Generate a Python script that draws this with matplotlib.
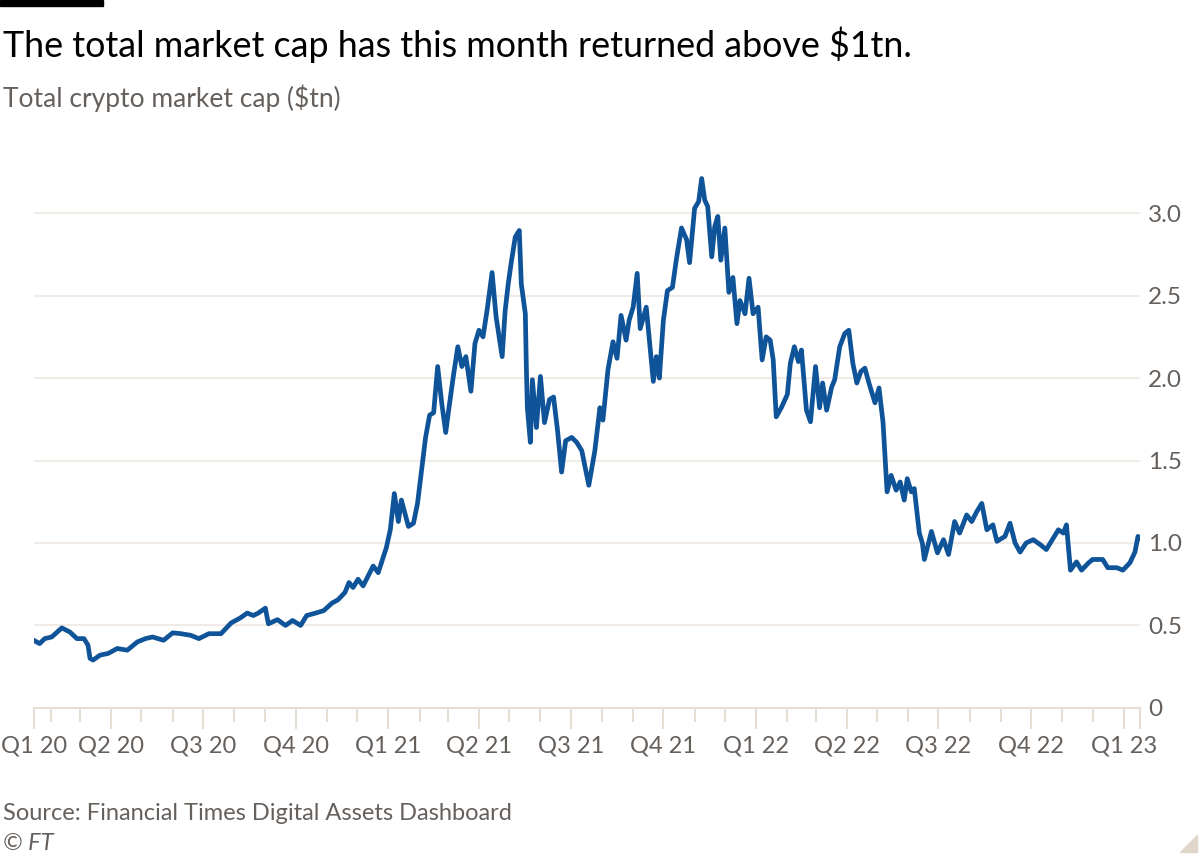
import matplotlib.pyplot as plt
import pandas as pd
from matplotlib.patches import Rectangle, Polygon

# Total crypto market cap ($tn)
dates_2020 = ["2020-01-15", "2020-01-21", "2020-01-26", "2020-02-02", "2020-02-12", "2020-02-20", "2020-02-27",
              "2020-03-05", "2020-03-09", "2020-03-11", "2020-03-14", "2020-03-21", "2020-03-29",
              "2020-04-07", "2020-04-17", "2020-04-27", "2020-05-05", "2020-05-12", "2020-05-23",
              "2020-06-01", "2020-06-09", "2020-06-19", "2020-06-27", "2020-07-07", "2020-07-19", "2020-07-29",
              "2020-08-07", "2020-08-14", "2020-08-20", "2020-08-25", "2020-09-01", "2020-09-04", "2020-09-13",
              "2020-09-21", "2020-09-28", "2020-10-06", "2020-10-12", "2020-10-21", "2020-10-29",
              "2020-11-06", "2020-11-12", "2020-11-19", "2020-11-23", "2020-11-27",
              "2020-12-02", "2020-12-07", "2020-12-17", "2020-12-22", "2020-12-30"]
values_2020 = [0.41, 0.39, 0.42, 0.43, 0.485, 0.46, 0.42,
               0.42, 0.38, 0.30, 0.29, 0.32, 0.33,
               0.36, 0.35, 0.40, 0.42, 0.43, 0.41,
               0.455, 0.45, 0.44, 0.42, 0.45, 0.45, 0.515,
               0.545, 0.575, 0.56, 0.575, 0.605, 0.51, 0.535,
               0.50, 0.53, 0.50, 0.56, 0.575, 0.59,
               0.635, 0.655, 0.70, 0.76, 0.73,
               0.78, 0.74, 0.86, 0.82, 0.97]

dates_2021 = ["2021-01-03", "2021-01-07", "2021-01-11", "2021-01-14", "2021-01-21", "2021-01-26", "2021-01-30",
              "2021-02-03", "2021-02-07", "2021-02-11", "2021-02-15", "2021-02-19", "2021-02-23", "2021-02-27",
              "2021-03-02", "2021-03-07", "2021-03-11", "2021-03-15", "2021-03-19", "2021-03-24", "2021-03-28",
              "2021-04-01", "2021-04-05", "2021-04-09", "2021-04-14", "2021-04-18", "2021-04-24", "2021-04-27", "2021-04-30",
              "2021-05-03", "2021-05-07", "2021-05-11", "2021-05-13", "2021-05-17", "2021-05-18", "2021-05-19",
              "2021-05-22", "2021-05-24", "2021-05-28",
              "2021-06-01", "2021-06-05", "2021-06-10", "2021-06-14", "2021-06-18", "2021-06-22", "2021-06-26",
              "2021-07-02", "2021-07-07", "2021-07-12", "2021-07-19", "2021-07-25", "2021-07-30",
              "2021-08-02", "2021-08-07", "2021-08-12", "2021-08-16", "2021-08-20", "2021-08-25", "2021-08-28",
              "2021-09-01", "2021-09-05", "2021-09-08", "2021-09-14", "2021-09-21", "2021-09-24", "2021-09-27",
              "2021-10-01", "2021-10-05", "2021-10-10", "2021-10-14", "2021-10-19", "2021-10-24", "2021-10-27",
              "2021-11-01", "2021-11-05", "2021-11-08", "2021-11-11", "2021-11-14", "2021-11-18", "2021-11-21",
              "2021-11-24", "2021-11-27",
              "2021-12-01", "2021-12-05", "2021-12-09", "2021-12-13", "2021-12-16", "2021-12-21", "2021-12-25", "2021-12-29"]
values_2021 = [1.08, 1.30, 1.13, 1.26, 1.10, 1.12, 1.24,
               1.44, 1.64, 1.775, 1.79, 2.07, 1.85, 1.67,
               1.81, 2.03, 2.19, 2.07, 2.13, 1.92, 2.21,
               2.29, 2.25, 2.41, 2.64, 2.37, 2.13, 2.41, 2.57,
               2.70, 2.855, 2.895, 2.57, 2.39, 2.07, 1.82,
               1.61, 1.99, 1.70,
               2.01, 1.73, 1.87, 1.885, 1.68, 1.43, 1.62,
               1.64, 1.61, 1.56, 1.35, 1.56, 1.82,
               1.745, 2.05, 2.22, 2.12, 2.38, 2.23, 2.35,
               2.43, 2.635, 2.30, 2.43, 1.98, 2.13, 2.00,
               2.35, 2.53, 2.55, 2.725, 2.91, 2.84, 2.70,
               3.03, 3.07, 3.21, 3.08, 3.04, 2.735, 2.92,
               2.98, 2.715,
               2.91, 2.52, 2.61, 2.33, 2.47, 2.39, 2.605, 2.39]

dates_2022 = ["2022-01-03", "2022-01-07", "2022-01-11", "2022-01-15", "2022-01-18", "2022-01-21", "2022-01-26",
              "2022-02-01", "2022-02-04", "2022-02-08", "2022-02-12", "2022-02-15", "2022-02-20", "2022-02-24",
              "2022-03-01", "2022-03-05", "2022-03-08", "2022-03-12", "2022-03-17", "2022-03-20", "2022-03-25", "2022-03-30",
              "2022-04-03", "2022-04-07", "2022-04-11", "2022-04-15", "2022-04-19", "2022-04-23", "2022-04-29",
              "2022-05-03", "2022-05-07", "2022-05-10", "2022-05-11", "2022-05-15", "2022-05-20", "2022-05-24",
              "2022-05-28", "2022-05-31",
              "2022-06-04", "2022-06-07", "2022-06-12", "2022-06-15", "2022-06-17", "2022-06-24", "2022-06-30",
              "2022-07-06", "2022-07-11", "2022-07-17", "2022-07-22", "2022-07-29",
              "2022-08-03", "2022-08-08", "2022-08-13", "2022-08-18", "2022-08-24", "2022-08-28",
              "2022-09-05", "2022-09-10", "2022-09-15", "2022-09-20", "2022-09-26",
              "2022-10-03", "2022-10-10", "2022-10-16", "2022-10-23", "2022-10-28",
              "2022-11-02", "2022-11-05", "2022-11-09", "2022-11-15", "2022-11-20", "2022-11-27",
              "2022-12-01", "2022-12-11", "2022-12-16", "2022-12-25", "2022-12-31",
              "2023-01-07", "2023-01-12", "2023-01-15", "2023-01-17"]
values_2022 = [2.43, 2.11, 2.25, 2.23, 2.11, 1.765, 1.82,
               1.90, 2.09, 2.19, 2.10, 2.17, 1.805, 1.735,
               2.07, 1.82, 1.97, 1.805, 1.945, 1.99, 2.19, 2.27,
               2.29, 2.09, 1.97, 2.04, 2.06, 1.97, 1.85,
               1.94, 1.73, 1.42, 1.31, 1.41, 1.32, 1.37,
               1.26, 1.39,
               1.31, 1.33, 1.06, 1.00, 0.90, 1.07, 0.94,
               1.02, 0.93, 1.13, 1.06, 1.17,
               1.13, 1.19, 1.24, 1.08, 1.11, 1.01,
               1.04, 1.12, 1.00, 0.945, 1.00,
               1.02, 0.99, 0.96, 1.03, 1.08,
               1.06, 1.11, 0.835, 0.885, 0.835, 0.88,
               0.90, 0.90, 0.85, 0.85, 0.835,
               0.88, 0.945, 1.04, 1.03]

quarter_labels = ["Q1 20", "Q2 20", "Q3 20", "Q4 20", "Q1 21", "Q2 21", "Q3 21",
                  "Q4 21", "Q1 22", "Q2 22", "Q3 22", "Q4 22", "Q1 23"]
y_ticks = [0, 0.5, 1.0, 1.5, 2.0, 2.5, 3.0]
y_labels = ["0", "0.5", "1.0", "1.5", "2.0", "2.5", "3.0"]

title = "The total market cap has this month returned above $1tn."
subtitle = "Total crypto market cap ($tn)"
source = "Source: Financial Times Digital Assets Dashboard"

start = pd.Timestamp("2020-01-15")
end = pd.Timestamp("2023-01-17")

plt.rcParams['font.family'] = ['Lato', 'DejaVu Sans']
grey = '#66605c'
beige = '#e6ddd3'

dates = pd.to_datetime(dates_2020 + dates_2021 + dates_2022)
values = values_2020 + values_2021 + values_2022

fig = plt.figure(figsize=(12, 8.57), dpi=100)
ax = fig.add_axes([0.028, 0.174, 0.922, 0.635])

ax.plot(dates, values, color='#0f5499', lw=3.4, solid_joinstyle='round', zorder=3)

ax.set_xlim(start, end)
ax.set_ylim(0, 3.3)

# y axis on the right, no tick marks
ax.yaxis.tick_right()
ax.set_yticks(y_ticks)
ax.set_yticklabels(y_labels)
ax.tick_params(axis='y', length=0, pad=6, labelsize=17.5, labelcolor=grey)
ax.grid(axis='y', color='#f0ebe6', lw=1.5)
ax.set_axisbelow(True)

for side in ['top', 'left', 'right']:
    ax.spines[side].set_visible(False)
ax.spines['bottom'].set_color(beige)
ax.spines['bottom'].set_linewidth(1.5)

# quarterly labels, first one sits at the axis start, plus an end tick
major = [start] + list(pd.date_range("2020-04-01", "2023-01-01", freq="QS")) + [end]
ax.set_xticks(major)
ax.set_xticklabels(quarter_labels + [""])
minor = [d for d in pd.date_range("2020-02-01", "2022-12-01", freq="MS") if d.month not in (1, 4, 7, 10)]
ax.set_xticks(minor, minor=True)
ax.tick_params(axis='x', which='major', length=15, width=1.5, color=beige, pad=5,
               labelsize=17, labelcolor=grey)
ax.tick_params(axis='x', which='minor', length=10, width=1.5, color=beige)

# header and footer
fig.patches.append(Rectangle((0, 1 - 6 / 857), 103 / 1200, 6 / 857,
                             transform=fig.transFigure, color='black'))
fig.text(0.0025, 1 - 57 / 857, title, fontsize=25.8, color='black', va='baseline')
fig.text(0.0025, 1 - 107 / 857, subtitle, fontsize=19, color=grey, va='baseline')
fig.text(0.0025, 1 - 820 / 857, source, fontsize=17, color=grey, va='baseline')
fig.text(0.0025, 1 - 850 / 857, "© FT", fontsize=17, color=grey, style='italic', va='baseline')
fig.patches.append(Polygon([(1197 / 1200, 1 - 835 / 857), (1197 / 1200, 1 - 852 / 857),
                            (1180 / 1200, 1 - 852 / 857)], closed=True,
                           transform=fig.transFigure, color='#e0d6ca'))

fig.savefig("out.png", dpi=100)
